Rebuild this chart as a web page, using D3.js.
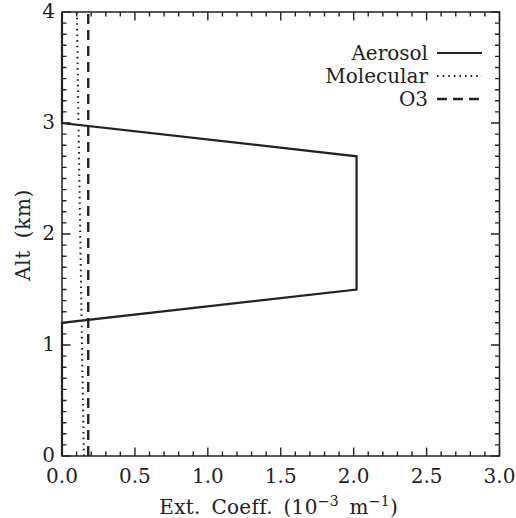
<!DOCTYPE html>
<html>
<head>
<meta charset="utf-8">
<script src="https://cdn.jsdelivr.net/npm/d3@7"></script>
<style>
  body { margin: 0; background: #fff; }
  svg { display: block; }
  text { font-family: "DejaVu Serif", serif; fill: #222; }
</style>
</head>
<body>
<svg id="chart" width="516" height="518"></svg>
<script>
// Extinction profiles vs altitude
const altitude = [0, 1, 2, 3, 4];                     // km
const molecular = [0.150, 0.137, 0.125, 0.113, 0.102]; // 10^-3 m^-1
const ozone = [0.18, 0.18, 0.18, 0.18, 0.18];

const aerosolAlt = [0, 1.2, 1.5, 2.7, 3.0, 4.0];
const aerosolExt = [0, 0, 2.02, 2.02, 0, 0];

const xTicks = [0, 0.5, 1.0, 1.5, 2.0, 2.5, 3.0];
const yTicks = [0, 1, 2, 3, 4];
const legendNames = ["Aerosol", "Molecular", "O3"];

const margin = { left: 62, right: 16.5, top: 12, bottom: 62 };
const W = 516, H = 518;
const svg = d3.select("#chart");

const x = d3.scaleLinear().domain([0, 3]).range([margin.left, W - margin.right]);
const y = d3.scaleLinear().domain([0, 4]).range([H - margin.bottom, margin.top]);

const ink = "#222";
const fs = 20;

const b = y(0), t = y(4), l = x(0), r = x(3);

// inward ticks on all four sides: major every 0.5 (x) / 1 (y), minor every 0.1
const xMinor = d3.range(0, 31).map(i => i / 10);
const yMinor = d3.range(0, 41).map(i => i / 10);
const xLen = v => (Math.abs(v * 2 - Math.round(v * 2)) < 1e-6 ? 8.5 : 4.5);
const yLen = v => (Math.abs(v - Math.round(v)) < 1e-6 ? 8.5 : 4.5);

let tickPath = "";
xMinor.forEach(d => {
  const px = x(d);
  tickPath += `M${px},${b}V${b - xLen(d)}M${px},${t}V${t + xLen(d)}`;
});
yMinor.forEach(d => {
  const py = y(d);
  tickPath += `M${l},${py}H${l + yLen(d)}M${r},${py}H${r - yLen(d)}`;
});
svg.append("path").attr("d", tickPath)
  .attr("fill", "none").attr("stroke", ink).attr("stroke-width", 1.4);

// frame
svg.append("rect").attr("x", l).attr("y", t).attr("width", r - l).attr("height", b - t)
  .attr("fill", "none").attr("stroke", ink).attr("stroke-width", 1.5);

// tick labels
svg.append("g").selectAll("text").data(xTicks).join("text")
  .attr("x", d => x(d)).attr("y", b + 27)
  .attr("text-anchor", "middle").attr("font-size", fs)
  .text(d => d3.format(".1f")(d));
svg.append("g").selectAll("text").data(yTicks).join("text")
  .attr("x", l - 7).attr("y", d => y(d) + 6)
  .attr("text-anchor", "end").attr("font-size", fs)
  .text(d => d);

// axis titles
const xt = svg.append("text").attr("x", (l + r) / 2 - 2).attr("y", b + 58)
  .attr("text-anchor", "middle").attr("font-size", fs)
  .attr("letter-spacing", 0.3).attr("word-spacing", 4);
xt.append("tspan").text("Ext. Coeff. (10");
xt.append("tspan").attr("dy", -8).attr("font-size", 14).text("−3");
xt.append("tspan").attr("dy", 8).text(" m");
xt.append("tspan").attr("dy", -8).attr("font-size", 14).text("−1");
xt.append("tspan").attr("dy", 8).text(")");

svg.append("text")
  .attr("transform", `translate(30,${(t + b) / 2 + 1}) rotate(-90)`)
  .attr("text-anchor", "middle").attr("font-size", fs)
  .attr("letter-spacing", 0.6).attr("word-spacing", 5)
  .text("Alt (km)");

// profiles
const line = d3.line().x(d => x(d[0])).y(d => y(d[1]));
const styles = [
  { width: 2.2, dash: null },
  { width: 2, dash: "1.6,4" },
  { width: 2.4, dash: "10,6" }
];

svg.append("path").datum(molecular.map((v, i) => [v, altitude[i]]))
  .attr("d", line).attr("fill", "none").attr("stroke", ink)
  .attr("stroke-width", styles[1].width).attr("stroke-dasharray", styles[1].dash);
svg.append("path").datum(ozone.map((v, i) => [v, altitude[i]]))
  .attr("d", line).attr("fill", "none").attr("stroke", ink)
  .attr("stroke-width", styles[2].width).attr("stroke-dasharray", styles[2].dash);
svg.append("path").datum(aerosolExt.map((v, i) => [v, aerosolAlt[i]]))
  .attr("d", line).attr("fill", "none").attr("stroke", ink)
  .attr("stroke-width", styles[0].width).attr("stroke-linejoin", "miter");

// legend
const lg = svg.append("g");
legendNames.forEach((name, i) => {
  const yy = 53 + i * 23;
  lg.append("text").attr("x", 428).attr("y", yy + 7)
    .attr("text-anchor", "end").attr("font-size", fs).text(name);
  lg.append("line").attr("x1", 437).attr("x2", 482).attr("y1", yy).attr("y2", yy)
    .attr("stroke", ink).attr("stroke-width", styles[i].width)
    .attr("stroke-dasharray", styles[i].dash);
});
</script>
</body>
</html>
